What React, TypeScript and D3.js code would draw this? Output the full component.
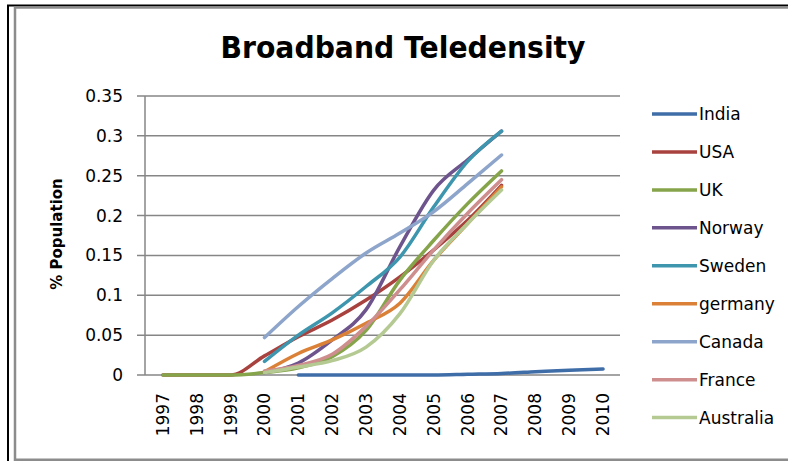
import React from "react";
import * as d3 from "d3";

// years on the category axis
const years = [1997, 1998, 1999, 2000, 2001, 2002, 2003, 2004, 2005, 2006, 2007, 2008, 2009, 2010];
const yTicks = [0, 0.05, 0.1, 0.15, 0.2, 0.25, 0.3, 0.35];

// values, null = no data for that year
const india = [null, null, null, null, 0, 0, 0, 0, 0, 0.001, 0.002, 0.004, 0.006, 0.0075];
const usa = [0, 0, 0, 0.024, 0.048, 0.069, 0.094, 0.123, 0.157, 0.194, 0.238, null, null, null];
const uk = [0, 0, 0, 0.003, 0.009, 0.023, 0.056, 0.119, 0.169, 0.215, 0.256, null, null, null];
const norway = [null, null, null, 0.003, 0.015, 0.044, 0.082, 0.161, 0.232, 0.27, 0.306, null, null, null];
const sweden = [null, null, null, 0.017, 0.05, 0.078, 0.111, 0.148, 0.211, 0.268, 0.306, null, null, null];
const germany = [null, null, null, 0.004, 0.027, 0.044, 0.065, 0.09, 0.144, 0.19, 0.236, null, null, null];
const canada = [null, null, null, 0.047, 0.086, 0.121, 0.153, 0.178, 0.205, 0.24, 0.276, null, null, null];
const france = [null, null, null, 0.005, 0.012, 0.026, 0.061, 0.107, 0.157, 0.203, 0.245, null, null, null];
const australia = [null, null, null, 0.003, 0.01, 0.018, 0.035, 0.077, 0.144, 0.19, 0.232, null, null, null];

const seriesNames = ["India", "USA", "UK", "Norway", "Sweden", "germany", "Canada", "France", "Australia"];
const seriesValues = [india, usa, uk, norway, sweden, germany, canada, france, australia];
const colors = ["#3F6DA8", "#A8423F", "#86A44A", "#6E548D", "#3D96AE", "#DA8137", "#8EA5CB", "#CE8E8D", "#B5CA92"];

const font = "'DejaVu Sans', sans-serif";

export default function App() {
  const width = 788;
  const height = 461;

  const x = d3.scalePoint<number>().domain(years).range([146, 620]).padding(0.5);
  const y = d3.scaleLinear().domain([0, 0.35]).range([375, 96]);

  const line = d3
    .line<number | null>()
    .defined((d) => d !== null)
    .x((d, i) => x(years[i]) as number)
    .y((d) => y(d as number))
    .curve(d3.curveMonotoneX);

  const fmt = (v: number) => String(+v.toFixed(2));

  return (
    <svg
      width={width}
      height={height}
      style={{ position: "absolute", left: 0, top: 0, background: "#fff" }}
    >
      {/* frame */}
      <path d="M8,461 V5.5 H788" fill="none" stroke="#000" strokeWidth={2} />
      <path d="M15,461 V7.5 H788" fill="none" stroke="#8c8c8c" strokeWidth={2.5} />
      <line x1={15} x2={788} y1={459.8} y2={459.8} stroke="#8c8c8c" strokeWidth={2.5} />

      <text
        x={403}
        y={58}
        textAnchor="middle"
        fontFamily={font}
        fontWeight="bold"
        fontSize={30}
        textLength={365}
        lengthAdjust="spacingAndGlyphs"
      >
        Broadband Teledensity
      </text>

      {/* grid + y ticks */}
      {yTicks.map((t) => (
        <g key={t}>
          <line x1={137} x2={620} y1={y(t)} y2={y(t)} stroke="#868686" strokeWidth={1.5} />
          <text
            x={123}
            y={y(t)}
            dy="0.35em"
            textAnchor="end"
            fontFamily={font}
            fontSize={17}
          >
            {fmt(t)}
          </text>
        </g>
      ))}
      <line x1={145} x2={145} y1={96} y2={375} stroke="#868686" strokeWidth={1.5} />

      <text
        transform="translate(57,234) rotate(-90)"
        textAnchor="middle"
        dy="0.35em"
        fontFamily={font}
        fontWeight="bold"
        fontSize={15}
      >
        % Population
      </text>

      {years.map((yr) => (
        <text
          key={yr}
          transform={`translate(${x(yr)},393) rotate(-90)`}
          textAnchor="end"
          dy="0.35em"
          fontFamily={font}
          fontSize={17}
        >
          {yr}
        </text>
      ))}

      {/* series */}
      {seriesValues.map((vals, i) => (
        <path
          key={seriesNames[i]}
          d={line(vals) || ""}
          fill="none"
          stroke={colors[i]}
          strokeWidth={3.5}
          strokeLinecap="round"
          strokeLinejoin="round"
        />
      ))}

      {/* legend */}
      {seriesNames.map((name, i) => {
        const ly = 114 + i * 37.95;
        return (
          <g key={name}>
            <line x1={652} x2={697} y1={ly} y2={ly} stroke={colors[i]} strokeWidth={3.5} />
            <text x={699} y={ly} dy="0.35em" fontFamily={font} fontSize={17}>
              {name}
            </text>
          </g>
        );
      })}
    </svg>
  );
}
